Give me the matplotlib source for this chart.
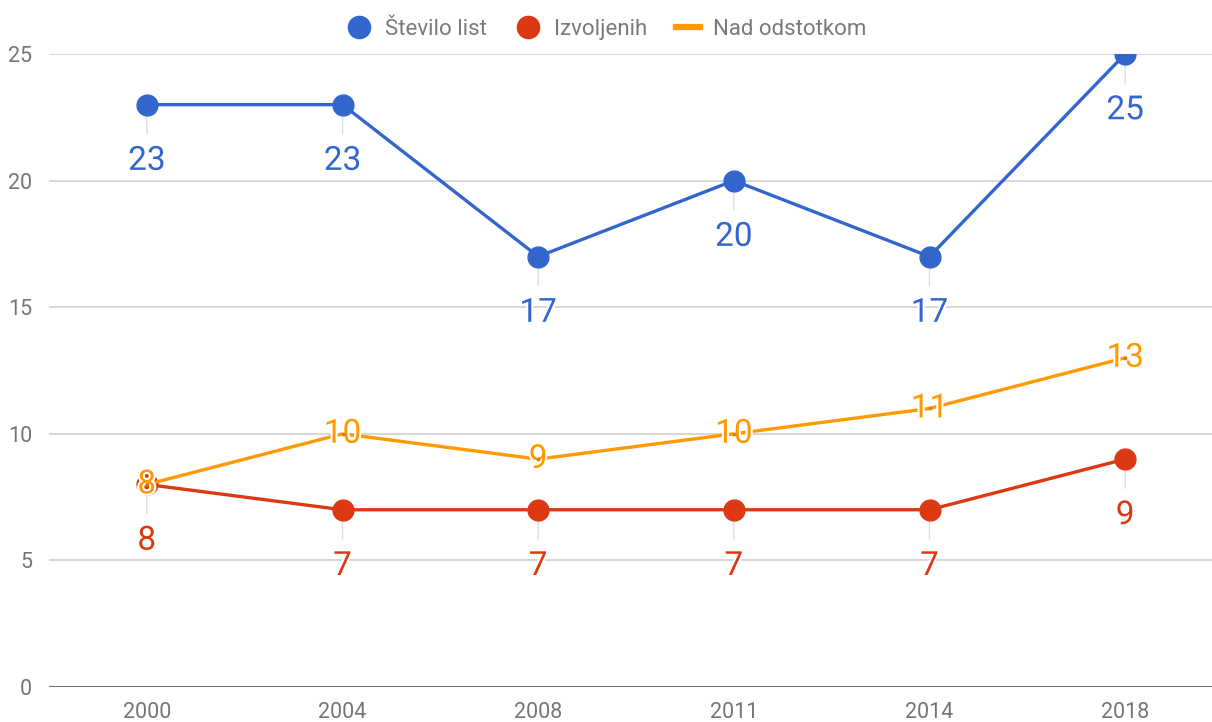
import matplotlib
matplotlib.use('Agg')
import matplotlib.pyplot as plt
import matplotlib.patheffects as pe
from matplotlib.lines import Line2D

plt.rcParams['font.family'] = ['Roboto', 'DejaVu Sans']

# ── data ──
years = ['2000', '2004', '2008', '2011', '2014', '2018']
stevilo_list = [23, 23, 17, 20, 17, 25]
izvoljenih = [8, 7, 7, 7, 7, 9]
nad_odstotkom = [8, 10, 9, 10, 11, 13]

BLUE = '#3366cc'
RED = '#dc3912'
ORANGE = '#ff9900'
GREY_TXT = '#757575'

W, H = 1212, 722
fig = plt.figure(figsize=(W / 100, H / 100), dpi=100)
fig.patch.set_facecolor('white')
# axes: left 49px, y=0 at 687px, y=25 at 54px
ax = fig.add_axes([49 / W, (H - 687) / H, (1223 - 49) / W, (687 - 54) / H])
ax.set_xlim(-0.5, 5.5)
ax.set_ylim(0, 25)
ax.set_facecolor('white')
for s in ax.spines.values():
    s.set_visible(False)

ax.set_yticks([0, 5, 10, 15, 20, 25])
ax.set_yticklabels(['0', '5', '10', '15', '20', '25'])
ax.set_xticks(range(len(years)))
ax.set_xticklabels(years)
ax.tick_params(length=0, labelsize=15.5, colors=GREY_TXT)
ax.tick_params(axis='y', pad=12)
ax.tick_params(axis='x', pad=11)
for v in [5, 10, 15, 20, 25]:
    ax.axhline(v, color='#cccccc', lw=1.1, zorder=0)
ax.axhline(0, color='#333333', lw=2, zorder=1, alpha=0.8)

x = list(range(len(years)))
# points are clipped to the plot area, like the 25 marker at the top
ax.plot(x, stevilo_list, color=BLUE, lw=2.4, marker='o', ms=15, zorder=3)
ax.plot(x, izvoljenih, color=RED, lw=2.4, marker='o', ms=15, zorder=3)
ax.plot(x, nad_odstotkom, color=ORANGE, lw=2.4, zorder=3)

stroke = [pe.withStroke(linewidth=3, foreground='white')]


def below_labels(vals, color):
    for xi, v in zip(x, vals):
        ax.annotate('', xy=(xi, v), xytext=(0, -21), textcoords='offset points',
                    arrowprops=dict(arrowstyle='-', color='#dddddd', lw=1,
                                    shrinkA=0, shrinkB=8), zorder=2)
        ax.annotate(str(v), xy=(xi, v), xytext=(0, -40.5), textcoords='offset points',
                    ha='center', va='center', fontsize=24, color=color,
                    path_effects=stroke, zorder=6, annotation_clip=False)


below_labels(stevilo_list, BLUE)
below_labels(izvoljenih, RED)
for xi, v in zip(x, nad_odstotkom):
    ax.text(xi, v, str(v), ha='center', va='center', fontsize=24,
            color=ORANGE, path_effects=stroke, zorder=7)
    ax.plot(xi, v, marker='o', ms=1.8, color='#e08000', zorder=8)

# legend
handles = [
    Line2D([], [], color=BLUE, marker='o', ls='none', ms=16),
    Line2D([], [], color=RED, marker='o', ls='none', ms=16),
    Line2D([], [], color=ORANGE, lw=4.5),
]
leg = fig.legend(handles, ['Število list', 'Izvoljenih', 'Nad odstotkom'],
                 loc='center', bbox_to_anchor=(607 / W, (H - 29.5) / H), ncol=3,
                 frameon=False, fontsize=16, handlelength=1.1,
                 handletextpad=0.6, columnspacing=1.3)
for t in leg.get_texts():
    t.set_color('#7a7a7a')

fig.savefig('out.png', dpi=100, facecolor='white')
